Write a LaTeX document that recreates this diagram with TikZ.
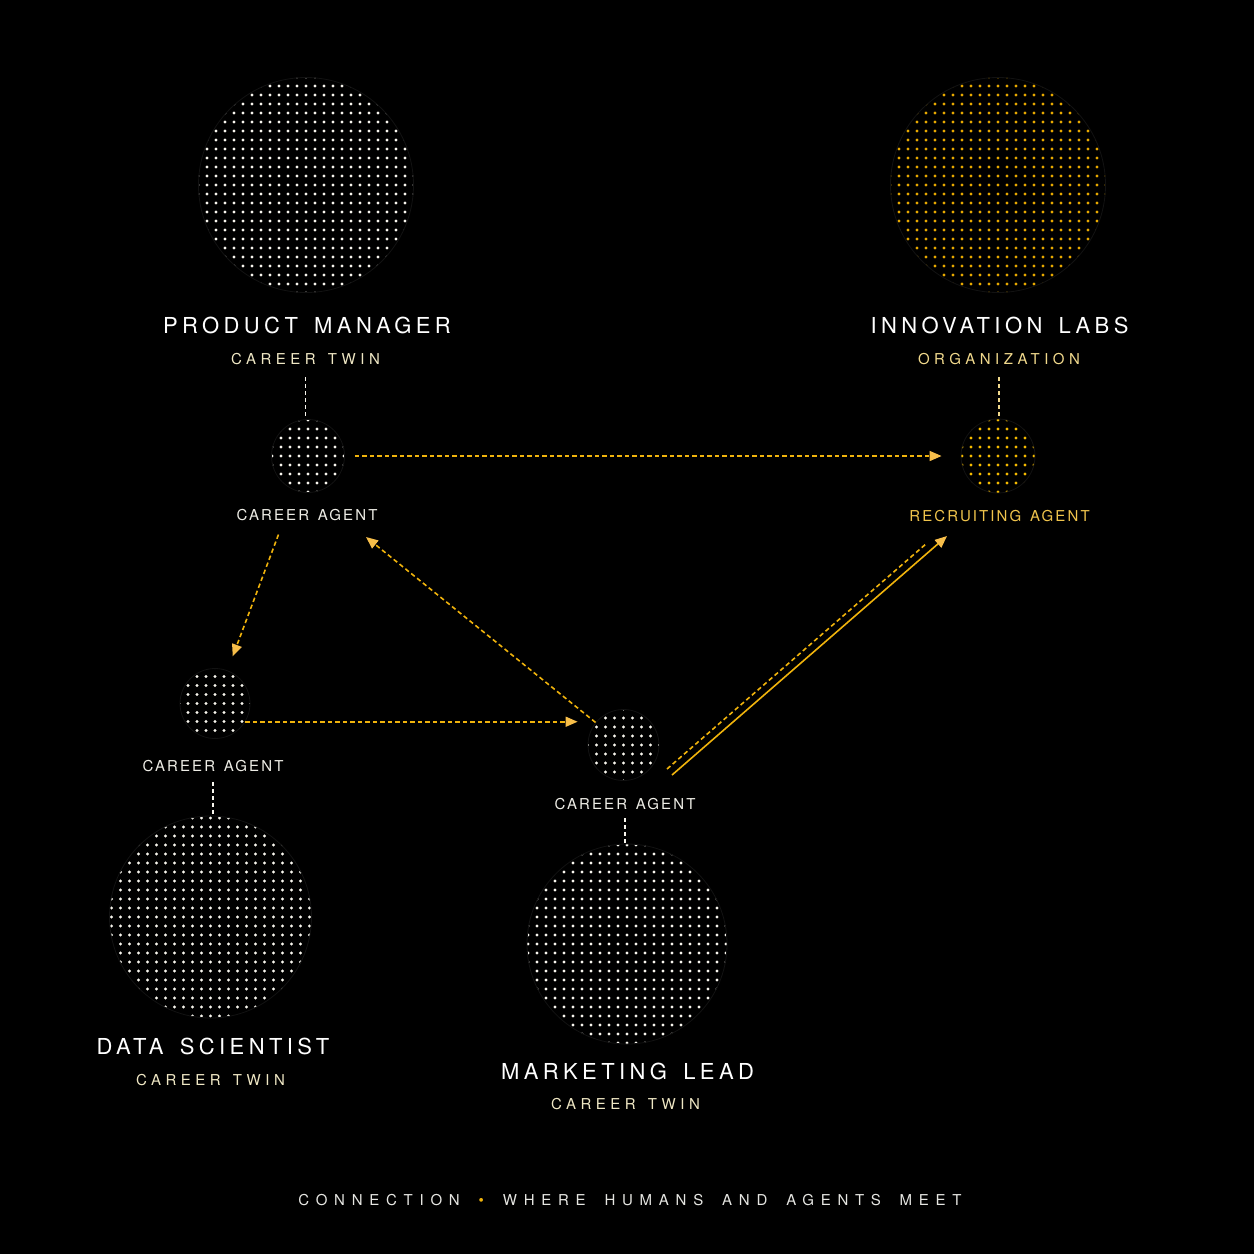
\documentclass[tikz,border=0pt]{standalone}
\usepackage{fontspec}
\setmainfont{TeX Gyre Heros}
\newfontfamily\titlefont[LetterSpace=20,WordSpace=1.55]{TeX Gyre Heros}
\newfontfamily\subfont[LetterSpace=30,WordSpace=1.4]{TeX Gyre Heros}
\newfontfamily\agentfont[LetterSpace=14,WordSpace=1.4]{TeX Gyre Heros}
\newfontfamily\footfont[LetterSpace=45,WordSpace=1.73]{TeX Gyre Heros}
\usetikzlibrary{arrows.meta}
\definecolor{dotwhite}{HTML}{F8F6EE}
\definecolor{dotgold}{HTML}{E8A900}
\definecolor{dotyellow}{HTML}{F5BA00}
\definecolor{linkyellow}{HTML}{F0B30C}
\definecolor{tipyellow}{HTML}{F7BE4A}
\definecolor{cream}{HTML}{EFE7C4}
\definecolor{palegold}{HTML}{F1D98C}
\definecolor{agentgold}{HTML}{F0C44C}
\definecolor{agentwhite}{HTML}{EEEDE6}
\definecolor{footgray}{HTML}{E6E6E2}
\definecolor{rim}{HTML}{121212}

\begin{document}
\begin{tikzpicture}[line cap=butt,line join=round,x=1pt,y=-1pt,
    >={Triangle[length=12pt,width=10pt,color=tipyellow]},
    disc/.style 2 args={circle,inner sep=0pt,minimum size=#1,draw=rim,line width=0.8pt,
      path picture={
        \pgfmathtruncatemacro\nd{#1/18+1}
        \foreach \i in {-\nd,...,\nd}
        \foreach \j in {-\nd,...,\nd}
        \fill[#2] ([shift={(\i*9,\j*9)}]path picture bounding box.center) circle (1.55);}},
    title/.style={text=white,inner sep=0pt,font=\titlefont\fontsize{22}{26}\selectfont},
    sub/.style={text=#1,inner sep=0pt,font=\subfont\fontsize{15}{18}\selectfont},
    sub/.default=cream,
    agentlbl/.style={text=#1,inner sep=0pt,font=\agentfont\fontsize{15}{18}\selectfont},
    agentlbl/.default=agentwhite,
    tether/.style={draw=#1,line width=1.2pt,dash pattern=on 4pt off 3pt},
    tether/.default=dotwhite,
    flow/.style={draw=linkyellow,line width=1.6pt,dash pattern=on 4.5pt off 3pt},
    flowsolid/.style={draw=linkyellow,line width=1.6pt}]
  \fill[black] (0,0) rectangle (1254,1254);
  \useasboundingbox (0,0) rectangle (1254,1254);

  % career twins and organization
  \node[disc={215}{dotwhite}] (pm) at (306,185) {};
  \node[disc={215}{dotgold}] (il) at (998,185) {};
  \node[disc={202}{dotwhite}] (ds) at (210.5,917) {};
  \node[disc={200}{dotwhite}] (ml) at (627,944) {};

  \node[title] (pmt) at (307,325) {PRODUCT MANAGER};
  \node[sub] (pms) at (305.5,359.5) {CAREER TWIN};
  \node[title] (ilt) at (999.5,325) {INNOVATION LABS};
  \node[sub=palegold] (ils) at (999,359.5) {ORGANIZATION};
  \node[title] (dst) at (213,1046.5) {DATA SCIENTIST};
  \node[sub] (dss) at (210.5,1080) {CAREER TWIN};
  \node[title] (mlt) at (627.5,1071) {MARKETING LEAD};
  \node[sub] (mls) at (625.5,1104) {CAREER TWIN};

  % agents
  \node[disc={73}{dotwhite}] (pma) at (308,456) {};
  \node[disc={74}{dotyellow}] (ila) at (998,456) {};
  \node[disc={70}{dotwhite}] (dsa) at (215,703.5) {};
  \node[disc={71}{dotwhite}] (mla) at (623.5,745) {};

  \node[agentlbl] (pmal) at (307,515) {CAREER AGENT};
  \node[agentlbl=agentgold] (ilal) at (999.5,516) {RECRUITING AGENT};
  \node[agentlbl] (dsal) at (213,766) {CAREER AGENT};
  \node[agentlbl] (mlal) at (625,804.5) {CAREER AGENT};

  % tethers
  \draw[tether,shorten <=12pt] (pms.south) -- (pms.south |- pma.north);
  \draw[tether=palegold,shorten <=12pt] (ils.south) -- (ils.south |- ila.north);
  \draw[tether,shorten <=10pt] (dsal.south) -- (dsal.south |- ds.north);
  \draw[tether,shorten <=8pt] (mlal.south) -- (mlal.south |- ml.north);

  % connections
  \coordinate (pmhook) at (366,537);
  \coordinate (mlout) at (672,775);
  \coordinate (ilin) at (947,536);
  \draw[flow,->,shorten <=10pt,shorten >=19pt] (pma) -- (ila);
  \draw[flow,->,shorten <=47pt,shorten >=15pt] (pma) -- (dsa);
  \draw[flow,->,shorten >=10pt] (dsa.-31) -- (dsa.-31 -| mla.west);
  \draw[flow,->] (mla) -- (pmhook);
  \draw[flowsolid,->] (mlout) -- (ilin);
  \draw[flow,shorten >=21pt] ([shift={(-5,-6)}]mlout) -- ([shift={(-5,-6)}]ilin);

  \node[text=footgray,inner sep=0pt,font=\footfont\fontsize{15}{18}\selectfont] (foot) at (630,1200)
    {CONNECTION \textcolor{linkyellow}{•} WHERE HUMANS AND AGENTS MEET};
\end{tikzpicture}
\end{document}
